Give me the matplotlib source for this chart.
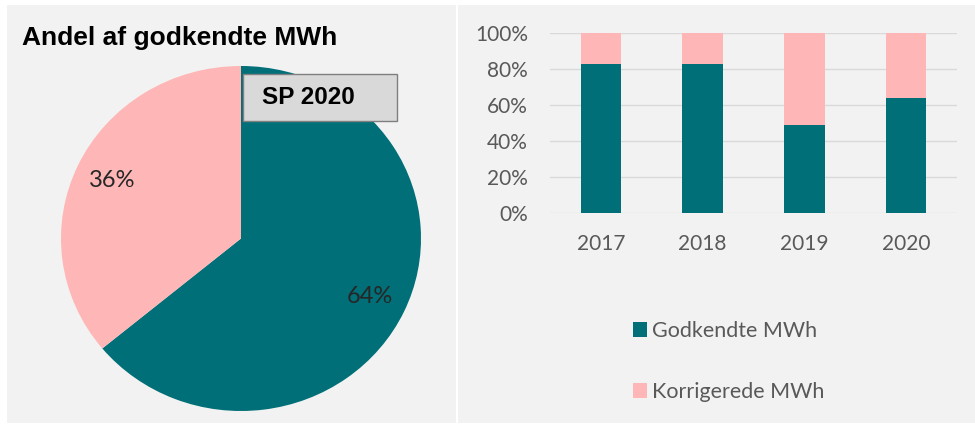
import matplotlib.pyplot as plt
from matplotlib.patches import Rectangle, Patch

# data
pie_labels = ['Godkendte MWh', 'Korrigerede MWh']
pie_values = [64, 36]
years = ['2017', '2018', '2019', '2020']
godkendte = [83, 83, 49, 64]
korrigerede = [17, 17, 51, 36]

TEAL = '#006f78'
PINK = '#ffb6b6'
BG = '#f2f2f2'
GRID = '#d9d9d9'
TXT = '#595959'

W, H = 975, 428
fig = plt.figure(figsize=(W / 100, H / 100), dpi=100, facecolor='white')


def box(x, y, w, h):
    # pixel box (from top-left) -> figure fraction
    return [x / W, 1 - (y + h) / H, w / W, h / H]


# panel backgrounds
for x, y, w, h in [(7, 5, 449, 418), (458, 5, 517, 418)]:
    fig.patches.append(Rectangle((x / W, 1 - (y + h) / H), w / W, h / H,
                                 transform=fig.transFigure, facecolor=BG,
                                 edgecolor='none', zorder=-5))

# left: pie
ax1 = fig.add_axes(box(61, 66, 360, 345))
ax1.pie(pie_values, colors=[TEAL, PINK], startangle=90, counterclock=False,
        autopct='%.0f%%', pctdistance=0.79,
        textprops=dict(family='Lato', fontsize=17, color='#262626'))
ax1.set_aspect('auto')
ax1.set_xlim(-1, 1)
ax1.set_ylim(-1, 1)

fig.text(22 / W, 1 - 38 / H, 'Andel af godkendte MWh', family='Liberation Sans',
         fontweight='bold', fontsize=19, color='black', va='center', ha='left')

fig.patches.append(Rectangle((243 / W, 1 - 121 / H), 154 / W, 47 / H,
                             transform=fig.transFigure, facecolor='#d9d9d9',
                             edgecolor='#7f7f7f', linewidth=1, zorder=5))
fig.text(262 / W, 1 - 97 / H, 'SP 2020', family='Liberation Sans',
         fontweight='bold', fontsize=17.5, color='black', va='center', ha='left',
         zorder=6)

# right: stacked bars
ax2 = fig.add_axes(box(550, 33, 407, 180))
ax2.set_facecolor('none')
x = range(len(years))
ax2.bar(x, godkendte, width=0.4, color=TEAL, zorder=3)
ax2.bar(x, korrigerede, bottom=godkendte, width=0.4, color=PINK, zorder=3)
ax2.set_xlim(-0.5, 3.5)
ax2.set_ylim(0, 100)
ax2.set_yticks(range(0, 101, 20))
ax2.set_yticklabels([f'{v}%' for v in range(0, 101, 20)])
ax2.set_xticks(list(x))
ax2.set_xticklabels(years)
ax2.yaxis.grid(True, color=GRID, linewidth=1, zorder=0)
for s in ax2.spines.values():
    s.set_visible(False)
ax2.tick_params(length=0, labelsize=15, labelcolor=TXT)
ax2.tick_params(axis='y', pad=16)
ax2.tick_params(axis='x', pad=15)
for lab in ax2.get_xticklabels() + ax2.get_yticklabels():
    lab.set_family('Lato')

handles = [Patch(facecolor=TEAL), Patch(facecolor=PINK)]
fig.legend(handles, pie_labels, loc='upper left',
           bbox_to_anchor=(633 / W, 1 - 321 / H), frameon=False,
           prop=dict(family='Lato', size=15.5), labelcolor=TXT,
           handlelength=0.65, handleheight=0.65, handletextpad=0.25,
           labelspacing=1.9, borderpad=0, borderaxespad=0)

fig.savefig('out.png', dpi=100, facecolor='white')
